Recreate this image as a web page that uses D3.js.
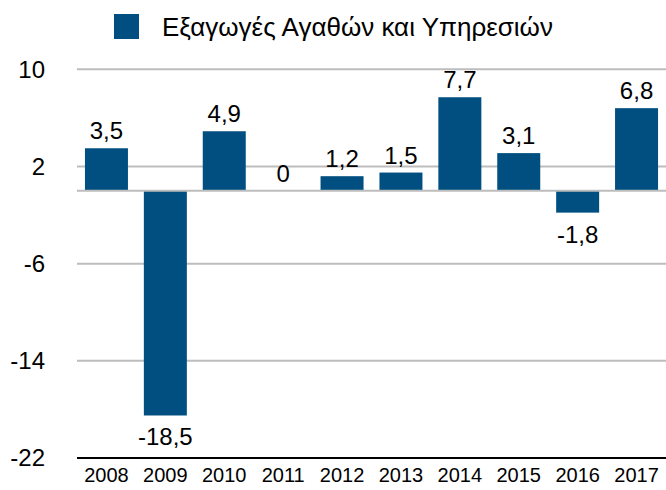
<!DOCTYPE html>
<html>
<head>
<meta charset="utf-8">
<script src="https://cdn.jsdelivr.net/npm/d3@7"></script>
<style>
  body { margin: 0; background: #fff; }
  svg { display: block; font-family: "Liberation Sans", Arial, sans-serif; }
</style>
</head>
<body>
<svg id="chart"></svg>
<script>
const years = ["2008", "2009", "2010", "2011", "2012", "2013", "2014", "2015", "2016", "2017"];
const values = [3.5, -18.5, 4.9, 0, 1.2, 1.5, 7.7, 3.1, -1.8, 6.8];
const yTicks = [10, 2, -6, -14, -22];
const seriesName = "Εξαγωγές Αγαθών και Υπηρεσιών";

const width = 666;
const height = 490;
const barColor = "#004f80";

const svg = d3.select("#chart")
  .attr("width", width)
  .attr("height", height)
  .attr("viewBox", `0 0 ${width} ${height}`);

const x = d3.scaleBand()
  .domain(years)
  .range([77, 666])
  .paddingInner(0.27)
  .paddingOuter(0.135);

const y = d3.scaleLinear()
  .domain([-22, 10])
  .range([458, 69.3]);

const fmt = (v) => String(v).replace(".", ",");

// gridlines
svg.append("g")
  .selectAll("line")
  .data(yTicks.filter((d) => d !== -22))
  .join("line")
  .attr("x1", 77)
  .attr("x2", width)
  .attr("y1", (d) => y(d))
  .attr("y2", (d) => y(d))
  .attr("stroke", "#bdbdbd")
  .attr("stroke-width", 2);

// y labels
svg.append("g")
  .selectAll("text")
  .data(yTicks)
  .join("text")
  .attr("x", 45)
  .attr("y", (d) => y(d))
  .attr("dy", "0.35em")
  .attr("text-anchor", "end")
  .attr("font-size", 24)
  .attr("fill", "#000")
  .text((d) => d);

// bars
svg.append("g")
  .attr("fill", barColor)
  .selectAll("rect")
  .data(values)
  .join("rect")
  .attr("x", (d, i) => x(years[i]))
  .attr("width", x.bandwidth())
  .attr("y", (d) => y(Math.max(0, d)))
  .attr("height", (d) => Math.abs(y(d) - y(0)));

// zero line
svg.append("line")
  .attr("x1", 77)
  .attr("x2", width)
  .attr("y1", y(0))
  .attr("y2", y(0))
  .attr("stroke", "#bdbdbd")
  .attr("stroke-width", 2);

// bottom axis
const xAxis = svg.append("g")
  .attr("transform", `translate(0,${y(-22)})`)
  .call(d3.axisBottom(x).tickSize(0).tickPadding(10));
xAxis.select(".domain")
  .attr("d", `M77,0H${width}`)
  .attr("stroke", "#000")
  .attr("stroke-width", 2);
xAxis.selectAll("text")
  .attr("font-size", 20)
  .attr("font-family", "Liberation Sans, Arial, sans-serif")
  .attr("fill", "#000");

// value labels
svg.append("g")
  .selectAll("text")
  .data(values)
  .join("text")
  .attr("x", (d, i) => x(years[i]) + x.bandwidth() / 2)
  .attr("y", (d) => d < 0 ? y(d) + 30 : y(d) - 9)
  .attr("text-anchor", "middle")
  .attr("font-size", 24)
  .attr("fill", "#000")
  .text((d) => fmt(d));

// legend
const legend = svg.append("g");
legend.append("rect")
  .attr("x", 114)
  .attr("y", 14)
  .attr("width", 25)
  .attr("height", 25)
  .attr("fill", barColor);
legend.append("text")
  .attr("x", 162)
  .attr("y", 27)
  .attr("dy", "0.35em")
  .attr("font-size", 26)
  .attr("fill", "#000")
  .text(seriesName);
</script>
</body>
</html>
